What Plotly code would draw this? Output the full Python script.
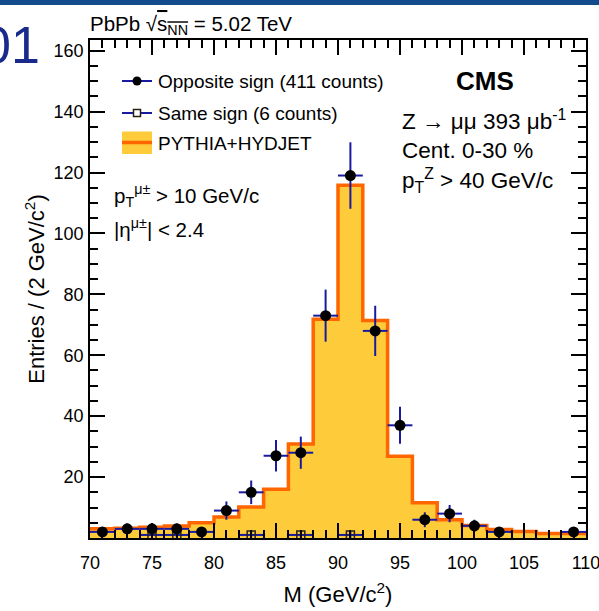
import numpy as np
import plotly.graph_objects as go

# ---- data ----
bin_edges = list(range(70, 112, 2))
bin_centers = [71, 73, 75, 77, 79, 81, 83, 85, 87, 89, 91, 93, 95, 97, 99, 101, 103, 105, 107, 109]
opposite_sign = [2, 3, 3, 3, 2, 9, 15, 27, 28, 73, 119, 68, 37, 6, 8, 4, 2, 0, 0, 2]
same_sign = [0, 0, 1, 1, 0, 0, 1, 0, 1, 0, 1, 0, 0, 0, 0, 0, 0, 0, 0, 0]
pythia_hydjet = [3.0, 3.2, 3.5, 3.9, 5.0, 6.9, 10.2, 16.0, 30.9, 71.8, 115.8, 71.4,
                 26.8, 11.6, 6.0, 4.1, 2.8, 2.1, 1.5, 1.5]
x_ticks = [70, 75, 80, 85, 90, 95, 100, 105, 110]
y_ticks = [20, 40, 60, 80, 100, 120, 140, 160]
x_range = [70, 110]
y_range = [0, 163.5]

FONT = "Liberation Sans, Arial, Helvetica, sans-serif"
NAVY = "#1a1aa0"
GOLD = "#fecc3a"
ORANGE = "#ff6600"

# plot-area pixel geometry
L, R, T, B = 90, 586, 40, 538
W, H = 599, 611


def px(x):
    return (x - L) / (R - L)


def py(y):
    return (B - y) / (B - T)


fig = go.Figure()

# MC histogram (step)
hx = bin_edges
hy = pythia_hydjet + [pythia_hydjet[-1]]
fig.add_trace(go.Scatter(
    x=hx, y=hy, mode="lines", line=dict(shape="hv", color=ORANGE, width=3.5),
    fill="tozeroy", fillcolor=GOLD, showlegend=False, hoverinfo="skip"))

# same sign
ss_x = [c for c, v in zip(bin_centers, same_sign) if v > 0]
ss_y = [v for v in same_sign if v > 0]
fig.add_trace(go.Scatter(
    x=ss_x, y=ss_y, mode="markers",
    marker=dict(symbol="square-open", size=8, color="#2a2010", line=dict(width=1.5)),
    error_x=dict(type="constant", value=1, color=NAVY, thickness=2, width=0),
    error_y=dict(type="data", array=list(np.sqrt(ss_y)), color=NAVY, thickness=2, width=0),
    showlegend=False))

# opposite sign
os_x = [c for c, v in zip(bin_centers, opposite_sign) if v > 0]
os_y = [v for v in opposite_sign if v > 0]
fig.add_trace(go.Scatter(
    x=os_x, y=os_y, mode="markers",
    marker=dict(symbol="circle", size=11, color="black"),
    error_x=dict(type="constant", value=1, color=NAVY, thickness=2, width=0),
    error_y=dict(type="data", array=list(np.sqrt(os_y)), color=NAVY, thickness=2, width=0),
    showlegend=False))

# invisible trace to carry the mirrored (top/right) axes
fig.add_trace(go.Scatter(x=[x_range[0]], y=[y_range[0]], xaxis="x2", yaxis="y2",
                         mode="markers", marker=dict(opacity=0), showlegend=False,
                         hoverinfo="skip"))

axis_common = dict(
    showline=True, linecolor="black", linewidth=1.5,
    ticks="inside", tickcolor="black", tickwidth=1.5, ticklen=15,
    showgrid=False, zeroline=False,
    tickfont=dict(family=FONT, size=18, color="black"),
)
xminor = dict(ticks="inside", tickmode="linear", tick0=70, dtick=1, ticklen=8,
              tickwidth=1.5, tickcolor="black", showgrid=False)
yminor = dict(ticks="inside", tickmode="linear", tick0=0, dtick=5, ticklen=8,
              tickwidth=1.5, tickcolor="black", showgrid=False)

fig.update_layout(
    xaxis=dict(
        range=x_range, tickmode="array", tickvals=x_ticks, ticktext=[str(t) for t in x_ticks],
        minor=xminor, ticklabelstandoff=8, ticklabeloverflow="allow",
        title=dict(text="M (GeV/c<sup>2</sup>)", font=dict(family=FONT, size=22, color="black"),
                   standoff=14),
        **axis_common),
    yaxis=dict(
        range=y_range, tickmode="array", tickvals=y_ticks, ticktext=[str(t) for t in y_ticks],
        minor=yminor, ticklabelstandoff=1, ticklabeloverflow="allow",
        title=dict(text="Entries / (2 GeV/c<sup>2</sup>)", font=dict(family=FONT, size=22, color="black"),
                   standoff=3),
        **axis_common),
    xaxis2=dict(range=x_range, overlaying="x", side="top", tickmode="array", tickvals=x_ticks,
                showticklabels=False, minor=xminor, **axis_common),
    yaxis2=dict(range=y_range, overlaying="y", side="right", tickmode="array", tickvals=y_ticks,
                showticklabels=False, minor=yminor, **axis_common),
)

shapes = []
annotations = []

# top blue bar
shapes.append(dict(type="rect", xref="paper", yref="paper", x0=px(0), x1=px(W), y0=py(0), y1=py(5),
                   fillcolor="#124c8c", line=dict(width=0), layer="above"))

# legend symbols
for yy in (81, 113):
    shapes.append(dict(type="line", xref="paper", yref="paper", x0=px(122), x1=px(152),
                       y0=py(yy), y1=py(yy), line=dict(color=NAVY, width=2)))
shapes.append(dict(type="circle", xref="paper", yref="paper", x0=px(132.5), x1=px(141.5),
                   y0=py(85.5), y1=py(76.5), fillcolor="black", line=dict(width=0)))
shapes.append(dict(type="rect", xref="paper", yref="paper", x0=px(133.5), x1=px(140.5),
                   y0=py(116.5), y1=py(109.5), fillcolor="white", line=dict(color="#2a2010", width=1.5)))
shapes.append(dict(type="rect", xref="paper", yref="paper", x0=px(122), x1=px(152),
                   y0=py(154), y1=py(131.5), fillcolor=GOLD, line=dict(width=0)))
shapes.append(dict(type="line", xref="paper", yref="paper", x0=px(122), x1=px(152),
                   y0=py(142.5), y1=py(142.5), line=dict(color=ORANGE, width=3.5)))


def text(x, y, s, size=18, anchor="left", bold=False, color="black"):
    if bold:
        s = "<b>" + s + "</b>"
    annotations.append(dict(x=px(x), y=py(y), xref="paper", yref="paper", text=s,
                            showarrow=False, xanchor=anchor, yanchor="middle",
                            font=dict(family=FONT, size=size, color=color)))


text(156, 81, "Opposite sign (411 counts)", 19)
text(156, 113, "Same sign (6 counts)", 19)
text(156, 143, "PYTHIA+HYDJET", 19)

text(112, 195, "p<sub>T</sub><sup>μ±</sup> > 10 GeV/c", 20.5)
text(112, 228, "|η<sup>μ±</sup>| < 2.4", 20.5)

text(485, 81, "CMS", 26, anchor="center", bold=True)
text(400, 120, "Z → μμ 393 μb<sup>-1</sup>", 22.5)
text(400, 150, "Cent. 0-30 %", 22.5)
text(400, 180, "p<sub>T</sub><sup>Z</sup> > 40 GeV/c", 22.5)

text(88, 25, "PbPb √<span style='text-decoration:overline'>s<sub>NN</sub></span> = 5.02 TeV", 20.5)
text(42, 45, "01", 52, anchor="right", color="#1a2a8c")

fig.update_layout(
    width=W, height=H,
    margin=dict(l=L, r=W - R, t=T, b=H - B, pad=0, autoexpand=False),
    paper_bgcolor="white", plot_bgcolor="white",
    font=dict(family=FONT, color="black"),
    shapes=shapes, annotations=annotations,
    showlegend=False,
)

fig.write_html("out.html", config={"displayModeBar": False},
               post_script="document.body.style.margin='0';document.body.style.overflow='hidden';")
